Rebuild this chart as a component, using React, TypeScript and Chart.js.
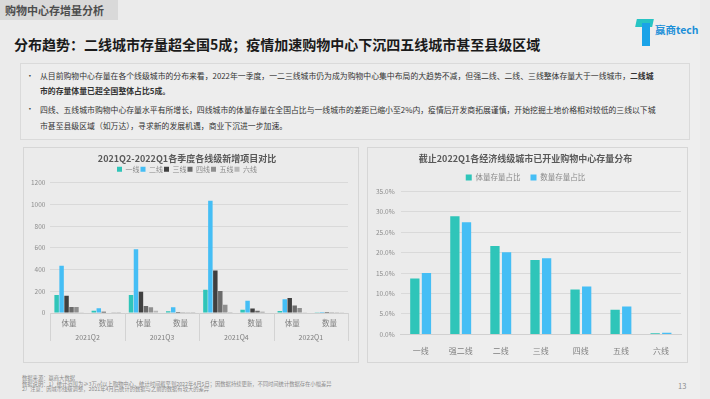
import React, { useEffect, useRef } from 'react';
import { Chart, registerables } from 'chart.js';
Chart.register(...registerables);

const FONT = '"Noto Sans CJK SC", "Noto Sans", sans-serif';

// ---- Left chart data ----
const quarters = ['2021Q2', '2021Q3', '2021Q4', '2022Q1'];
const metrics = ['体量', '数量'];
const tierNames = ['一线', '二线', '三线', '四线', '五线', '六线'];
// order: Q2 体量, Q2 数量, Q3 体量, Q3 数量, Q4 体量, Q4 数量, Q1 体量, Q1 数量
const tier1 = [165, 20, 165, 15, 215, 29, 18, 2];
const tier2 = [435, 44, 588, 53, 1035, 112, 126, 10];
const tier3 = [159, 12, 197, 9, 391, 41, 138, 10];
const tier4 = [56, 5, 65, 3, 203, 21, 68, 8];
const tier5 = [56, 3, 53, 2, 76, 12, 47, 6];
const tier6 = [2, 1, 20, 1, 9, 5, 3, 2];
const leftTicks = [0, 200, 400, 600, 800, 1000, 1200];

// ---- Right chart data ----
const cityTiers = ['一线', '强二线', '二线', '三线', '四线', '五线', '六线'];
const volumeShare = [13.7, 28.9, 21.6, 18.2, 11.0, 6.0, 0.3];
const countShare = [15.0, 27.4, 20.1, 18.6, 11.7, 6.8, 0.4];

const TEAL = '#2fc5b9';
const BLUE = '#45bef5';
const tierColors = [TEAL, BLUE, '#404040', '#6b6b6b', '#8f8f8f', '#b8b8b8'];

const groupPlugin = {
  id: 'groupLabels',
  afterDraw(chart: any) {
    const xs = chart.scales.x;
    const ctx = chart.ctx;
    const n = xs.ticks.length;
    const w = (xs.right - xs.left) / n;
    ctx.save();
    ctx.strokeStyle = '#d3d3d3';
    ctx.lineWidth = 1;
    for (let g = 0; g <= quarters.length; g++) {
      const x = g === quarters.length
        ? xs.getPixelForValue(n - 1) + w / 2
        : xs.getPixelForValue(g * metrics.length) - w / 2;
      const px = Math.round(x) + 0.5;
      ctx.beginPath();
      ctx.moveTo(px, xs.top);
      ctx.lineTo(px, xs.top + 28);
      ctx.stroke();
    }
    ctx.fillStyle = '#7f7f7f';
    ctx.font = `7px ${FONT}`;
    ctx.textAlign = 'center';
    ctx.textBaseline = 'middle';
    quarters.forEach((q, g) => {
      const cx = (xs.getPixelForValue(g * 2) + xs.getPixelForValue(g * 2 + 1)) / 2;
      ctx.fillText(q, cx, xs.top + 24);
    });
    ctx.restore();
  },
};

function LeftChart() {
  const ref = useRef<HTMLCanvasElement>(null);
  useEffect(() => {
    const labels: string[] = [];
    quarters.forEach(() => metrics.forEach((m) => labels.push(m)));
    const series = [tier1, tier2, tier3, tier4, tier5, tier6];
    const chart = new Chart(ref.current!, {
      type: 'bar',
      data: {
        labels,
        datasets: series.map((d, i) => ({
          label: tierNames[i],
          data: d,
          backgroundColor: tierColors[i],
          barPercentage: 0.9,
          categoryPercentage: 0.8,
        })),
      },
      options: {
        responsive: false,
        animation: false,
        layout: { padding: { left: 2, right: 10, bottom: 28, top: 0 } },
        plugins: {
          title: {
            display: true,
            text: '2021Q2-2022Q1各季度各线级新增项目对比',
            color: '#595959',
            font: { family: FONT, size: 9, weight: 'bold' },
            padding: { top: 5, bottom: 1 },
          },
          legend: {
            display: true,
            labels: {
              boxWidth: 5,
              boxHeight: 5,
              color: '#8a8a8a',
              font: { family: FONT, size: 7 },
              padding: 1,
            },
          },
          tooltip: { enabled: false },
        },
        scales: {
          x: {
            grid: { display: false, drawTicks: false },
            border: { display: true, color: '#cfcfcf' },
            ticks: { color: '#7f7f7f', font: { family: FONT, size: 7.5 }, padding: 6 },
          },
          y: {
            min: leftTicks[0],
            max: leftTicks[leftTicks.length - 1],
            afterBuildTicks: (axis: any) => {
              axis.ticks = leftTicks.map((v) => ({ value: v }));
            },
            grid: { color: '#d9d9d9', drawTicks: false },
            border: { display: false },
            ticks: {
              color: '#8c8c8c',
              font: { family: FONT, size: 6.5 },
              padding: 5,
              callback: (v: any) => String(v),
            },
          },
        },
      },
      plugins: [groupPlugin],
    } as any);
    return () => chart.destroy();
  }, []);
  return <canvas ref={ref} width={334} height={214} style={{ display: 'block' }} />;
}

function RightChart() {
  const ref = useRef<HTMLCanvasElement>(null);
  useEffect(() => {
    const chart = new Chart(ref.current!, {
      type: 'bar',
      data: {
        labels: cityTiers,
        datasets: [
          { label: '体量存量占比', data: volumeShare, backgroundColor: TEAL, barPercentage: 0.8, categoryPercentage: 0.58 },
          { label: '数量存量占比', data: countShare, backgroundColor: BLUE, barPercentage: 0.8, categoryPercentage: 0.58 },
        ],
      },
      options: {
        responsive: false,
        animation: false,
        layout: { padding: { left: 2, right: 6, bottom: 2, top: 0 } },
        plugins: {
          title: {
            display: true,
            text: '截止2022Q1各经济线级城市已开业购物中心存量分布',
            color: '#595959',
            font: { family: FONT, size: 9, weight: 'bold' },
            padding: { top: 5, bottom: 0 },
          },
          legend: {
            display: true,
            labels: {
              boxWidth: 6,
              boxHeight: 6,
              color: '#8a8a8a',
              font: { family: FONT, size: 7.5 },
              padding: 10,
            },
          },
          tooltip: { enabled: false },
        },
        scales: {
          x: {
            grid: { display: false },
            border: { display: true, color: '#d0d0d0' },
            ticks: { color: '#7f7f7f', font: { family: FONT, size: 8 }, padding: 4 },
          },
          y: {
            min: 0,
            max: 35,
            ticks: {
              stepSize: 5,
              color: '#8c8c8c',
              font: { family: FONT, size: 6.5 },
              padding: 6,
              callback: (v: any) => Number(v).toFixed(1) + '%',
            },
            grid: { color: '#d9d9d9', drawTicks: false },
            border: { display: false },
          },
        },
      },
    } as any);
    return () => chart.destroy();
  }, []);
  return <canvas ref={ref} width={319} height={214} style={{ display: 'block' }} />;
}

export default function App() {
  useEffect(() => {
    document.body.style.margin = '0';
    document.body.style.background = '#ebebeb';
  }, []);
  const abs = (l: number, t: number, extra: any = {}) => ({ position: 'absolute' as const, left: l, top: t, ...extra });
  return (
    <div style={{ position: 'fixed', left: 0, top: 0, width: 710, height: 399, overflow: 'hidden', background: '#ebebeb', fontFamily: FONT }}>
      {/* subtle watermark panel */}
      <div style={abs(470, 0, { width: 230, height: 399, background: 'rgba(255,255,255,0.18)' })} />
      {/* header tag */}
      <div style={abs(0, 0, { width: 118, height: 20, background: '#d9d9d9', color: '#4d4d4d', fontSize: 11, fontWeight: 700, lineHeight: '20px', paddingLeft: 5, boxSizing: 'border-box' })}>
        购物中心存增量分析
      </div>
      {/* logo */}
      <div style={abs(636, 19, { width: 17, height: 8, background: '#27c4c4', transform: 'skewX(-12deg)' })} />
      <div style={abs(642, 23, { width: 8, height: 23, background: '#1aa3e8' })} />
      <div style={abs(655, 23, { color: '#1b8fd8', fontSize: 10.5, fontWeight: 700, lineHeight: '14px' })}>赢商tech</div>
      {/* title */}
      <div style={abs(14, 33, { color: '#1a1a1a', fontSize: 14, fontWeight: 700, lineHeight: '22px', whiteSpace: 'nowrap' })}>
        分布趋势：二线城市存量超全国5成；疫情加速购物中心下沉四五线城市甚至县级区域
      </div>
      {/* bullet box */}
      <div style={abs(20, 63, { width: 670, height: 77, border: '1px solid #dadada', background: '#ededed', boxSizing: 'border-box' })} />
      <div style={abs(26, 69, { color: '#404040', fontSize: 7.8, lineHeight: '13px' })}>•</div>
      <div style={abs(40, 69, { width: 650, color: '#333', fontSize: 7.85, lineHeight: '14.5px', whiteSpace: 'nowrap' })}>
        从目前购物中心存量在各个线级城市的分布来看，2022年一季度，一二三线城市仍为成为购物中心集中布局的大趋势不减，但强二线、二线、三线整体存量大于一线城市，<b>二线城</b>
        <br />
        <b>市的存量体量已超全国整体占比5成。</b>
      </div>
      <div style={abs(26, 102, { color: '#404040', fontSize: 7.8, lineHeight: '13px' })}>•</div>
      <div style={abs(40, 102, { width: 650, color: '#333', fontSize: 7.85, lineHeight: '15.5px', whiteSpace: 'nowrap' })}>
        四线、五线城市购物中心存量水平有所增长，四线城市的体量存量在全国占比与一线城市的差距已缩小至2%内，疫情后开发商拓展谨慎，开始挖掘土地价格相对较低的三线以下城
        <br />
        市甚至县级区域（如万达），寻求新的发展机遇，商业下沉进一步加速。
      </div>
      {/* left panel */}
      <div style={abs(23, 147, { width: 336, height: 216, border: '1px solid #d6d6d6', boxSizing: 'border-box' })} />
      <div style={abs(24, 148)}>
        <LeftChart />
      </div>
      {/* right panel */}
      <div style={abs(367, 147, { width: 321, height: 216, border: '1px solid #d6d6d6', boxSizing: 'border-box' })} />
      <div style={abs(368, 148)}>
        <RightChart />
      </div>
      {/* footnotes */}
      <div style={abs(22, 376, { color: '#8c8c8c', fontSize: 5.3, lineHeight: '5.6px', whiteSpace: 'nowrap' })}>
        数据来源：赢商大数据
        <br />
        数据说明：1）统计范围为≥3万㎡以上购物中心，统计时间截至到2022年4月5日；因数据持续更新，不同时间统计数据存在小幅差异
        <br />
        2）注意：因城市线级调整，2021年4月后统计的数据与之前的数据有较大的差异
      </div>
      <div style={abs(678, 380, { color: '#8c8c8c', fontSize: 7.5 })}>13</div>
    </div>
  );
}
